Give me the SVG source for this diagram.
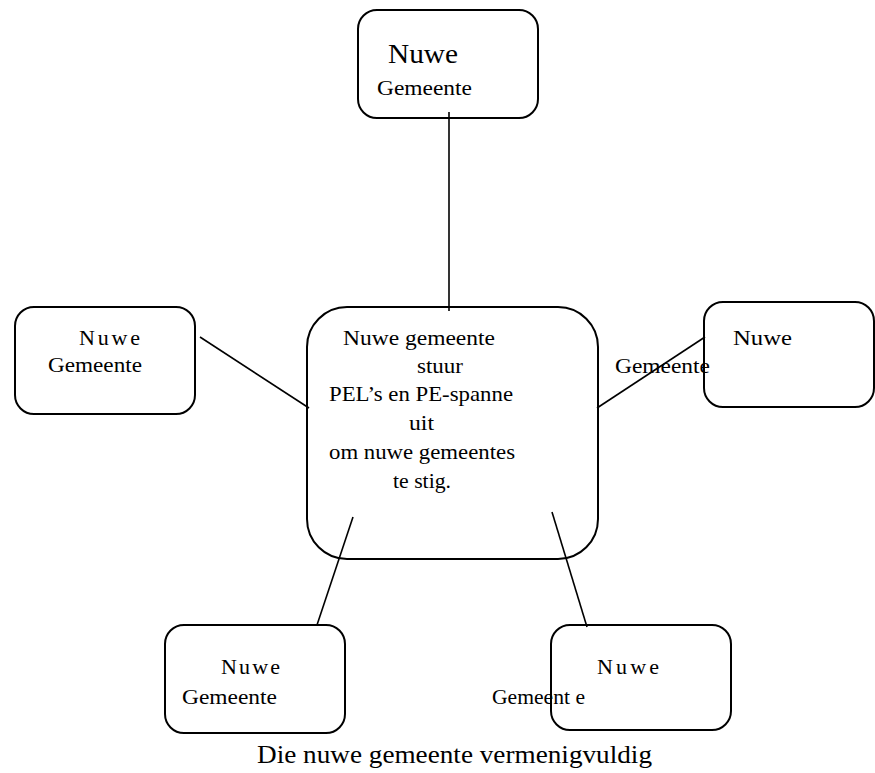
<svg xmlns="http://www.w3.org/2000/svg" width="875" height="773" viewBox="0 0 875 773">
<style>
.box{fill:#fff;stroke:#000;stroke-width:2}
.t{font-family:"Liberation Serif","Times New Roman",serif;font-size:22px;fill:#000}
.big{font-size:28px}
.cap{font-size:26px}
.conn line{stroke:#000;stroke-width:1.6}
</style>
<rect width="875" height="773" fill="#fff"/>
<g id="node-top">
<rect class="box" x="358" y="10" width="180" height="108" rx="19"/>
<text class="t big" x="388" y="63" textLength="70" lengthAdjust="spacingAndGlyphs">Nuwe</text>
<text class="t" x="377" y="95" textLength="95" lengthAdjust="spacingAndGlyphs">Gemeente</text>
</g>
<g id="node-left">
<rect class="box" x="15" y="307" width="180" height="107" rx="19"/>
<text class="t" x="79" y="345" textLength="61" lengthAdjust="spacing">Nuwe</text>
<text class="t" x="48" y="372" textLength="94" lengthAdjust="spacingAndGlyphs">Gemeente</text>
</g>
<g id="node-center">
<rect class="box" x="307" y="307" width="291" height="252" rx="40"/>
<text class="t" x="343" y="345" textLength="152" lengthAdjust="spacingAndGlyphs">Nuwe gemeente</text>
<text class="t" x="417" y="373" textLength="46" lengthAdjust="spacingAndGlyphs">stuur</text>
<text class="t" x="329" y="401" textLength="184" lengthAdjust="spacingAndGlyphs">PEL’s en PE-spanne</text>
<text class="t" x="409" y="430" textLength="25" lengthAdjust="spacingAndGlyphs">uit</text>
<text class="t" x="329" y="459" textLength="186" lengthAdjust="spacingAndGlyphs">om nuwe gemeentes</text>
<text class="t" x="393" y="488" textLength="58" lengthAdjust="spacingAndGlyphs">te stig.</text>
</g>
<g id="node-right">
<rect class="box" x="704" y="302" width="170" height="105" rx="19"/>
<text class="t" x="733" y="345" textLength="59" lengthAdjust="spacingAndGlyphs">Nuwe</text>
<text class="t" x="615" y="373" textLength="95" lengthAdjust="spacingAndGlyphs">Gemeente</text>
</g>
<g id="node-bottom-left">
<rect class="box" x="165" y="625" width="180" height="108" rx="19"/>
<text class="t" x="221" y="674" textLength="59" lengthAdjust="spacing">Nuwe</text>
<text class="t" x="182" y="704" textLength="95" lengthAdjust="spacingAndGlyphs">Gemeente</text>
</g>
<g id="node-bottom-right">
<rect class="box" x="551" y="625" width="180" height="105" rx="19"/>
<text class="t" x="597" y="674" textLength="62" lengthAdjust="spacing">Nuwe</text>
<text class="t" x="492" y="704" textLength="93" lengthAdjust="spacingAndGlyphs">Gemeent e</text>
</g>
<g id="connectors" class="conn">
<line x1="449" y1="112" x2="449" y2="311"/>
<line x1="200" y1="337" x2="309" y2="408"/>
<line x1="597" y1="408" x2="705" y2="337"/>
<line x1="353" y1="517" x2="317" y2="625"/>
<line x1="552" y1="512" x2="587" y2="627"/>
</g>
<g id="caption">
<text class="t cap" x="257" y="763" textLength="395" lengthAdjust="spacingAndGlyphs">Die nuwe gemeente vermenigvuldig</text>
</g>
</svg>
